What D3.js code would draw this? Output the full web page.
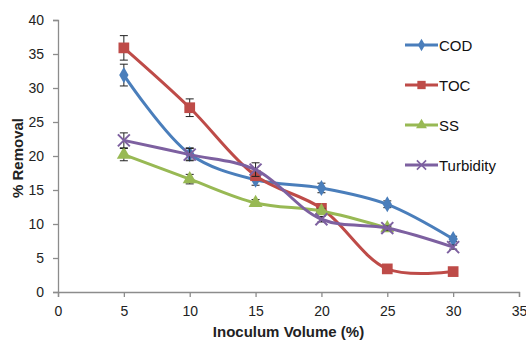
<!DOCTYPE html>
<html>
<head>
<meta charset="utf-8">
<script src="https://cdn.jsdelivr.net/npm/d3@7"></script>
<style>
  body { margin: 0; background: #fff; }
  svg { display: block; font-family: "Liberation Sans", Arial, sans-serif; }
</style>
</head>
<body>
<div id="chart"></div>
<script>
// Data
const volumes = [5, 10, 15, 20, 25, 30];
const codValues = [31.9, 20.3, 16.5, 15.3, 12.9, 7.8];
const codErrors = [1.6, 0.9, 0.8, 0.7, 0.5, 0.4];
const tocValues = [35.9, 27.1, 17.1, 12.3, 3.4, 3.0];
const tocErrors = [1.8, 1.3, 0.6, 0.4, 0.3, 0.3];
const ssValues = [20.2, 16.6, 13.1, 11.9, 9.4];
const ssErrors = [0.9, 0.7, 0.5, 0.4, 0.3];
const turbValues = [22.3, 20.2, 18.0, 10.7, 9.4, 6.6];
const turbErrors = [1.1, 0.9, 1.0, 0.4, 0.3, 0.3];
const xTicks = [0, 5, 10, 15, 20, 25, 30, 35];
const yTicks = [0, 5, 10, 15, 20, 25, 30, 35, 40];

const series = [
  { name: 'COD', color: '#4a7ebb', symbol: 'diamond', values: codValues, errors: codErrors },
  { name: 'TOC', color: '#be4b48', symbol: 'square', values: tocValues, errors: tocErrors },
  { name: 'SS', color: '#98b954', symbol: 'triangle', values: ssValues, errors: ssErrors },
  { name: 'Turbidity', color: '#7d60a0', symbol: 'cross', values: turbValues, errors: turbErrors }
];

const width = 526, height = 340;
const margin = { top: 20, right: 7, bottom: 48, left: 58 };
const plotW = width - margin.left - margin.right;
const plotH = height - margin.top - margin.bottom;

const svg = d3.select('#chart').append('svg')
  .attr('width', width)
  .attr('height', height);

const g = svg.append('g')
  .attr('transform', `translate(${margin.left},${margin.top})`);

const x = d3.scaleLinear().domain([0, 35]).range([0, plotW]);
const y = d3.scaleLinear().domain([0, 40]).range([plotH, 0]);

// Axes
const xAxis = g.append('g')
  .attr('transform', `translate(0,${plotH})`)
  .call(d3.axisBottom(x).tickValues(xTicks).tickSize(5).tickPadding(9));
const yAxis = g.append('g')
  .call(d3.axisLeft(y).tickValues(yTicks).tickSize(5).tickPadding(9));

[xAxis, yAxis].forEach(a => {
  a.selectAll('path, line').attr('stroke', '#8c8c8c').attr('stroke-width', 1.3);
  a.selectAll('text').attr('font-size', 14).attr('fill', '#222')
    .attr('font-family', '"Liberation Sans", Arial, sans-serif');
});

// Axis titles
svg.append('text')
  .attr('x', margin.left + x(17.5))
  .attr('y', 337)
  .attr('text-anchor', 'middle')
  .attr('font-size', 15)
  .attr('font-weight', 'bold')
  .attr('fill', '#222')
  .text('Inoculum Volume (%)');

svg.append('text')
  .attr('transform', `translate(23,${margin.top + y(20) + 2}) rotate(-90)`)
  .attr('text-anchor', 'middle')
  .attr('font-size', 15)
  .attr('font-weight', 'bold')
  .attr('fill', '#222')
  .text('% Removal');

const line = d3.line()
  .x(d => x(d.v))
  .y(d => y(d.p))
  .curve(d3.curveCatmullRom.alpha(0.5));

const symbolType = {
  diamond: d3.symbolDiamond,
  square: d3.symbolSquare,
  triangle: d3.symbolTriangle,
  cross: d3.symbolTimes
};
const symbolSize = { diamond: 75, square: 115, triangle: 85, cross: 95 };

function drawMarker(sel, s, scale) {
  const path = d3.symbol().type(symbolType[s.symbol]).size(symbolSize[s.symbol] * scale);
  sel.append('path')
    .attr('d', path)
    .attr('fill', s.symbol === 'cross' ? 'none' : s.color)
    .attr('stroke', s.color)
    .attr('stroke-width', s.symbol === 'cross' ? 2 * Math.sqrt(scale) : 0);
}

series.forEach(s => {
  const pts = s.values.map((p, i) => ({ v: volumes[i], p, e: s.errors[i] }));

  // error bars
  const eb = g.append('g').attr('stroke', '#222').attr('stroke-width', 1);
  pts.forEach(d => {
    eb.append('line')
      .attr('x1', x(d.v)).attr('x2', x(d.v))
      .attr('y1', y(d.p - d.e)).attr('y2', y(d.p + d.e));
    [d.p - d.e, d.p + d.e].forEach(val => {
      eb.append('line')
        .attr('x1', x(d.v) - 4).attr('x2', x(d.v) + 4)
        .attr('y1', y(val)).attr('y2', y(val));
    });
  });

  g.append('path')
    .datum(pts)
    .attr('fill', 'none')
    .attr('stroke', s.color)
    .attr('stroke-width', 3)
    .attr('d', line);

  pts.forEach(d => {
    const m = g.append('g').attr('transform', `translate(${x(d.v)},${y(d.p)})`);
    drawMarker(m, s, 1);
  });
});

// Legend
const legend = svg.append('g').attr('transform', 'translate(405,45)');
series.forEach((s, i) => {
  const item = legend.append('g').attr('transform', `translate(0,${i * 40})`);
  item.append('line')
    .attr('x1', 0).attr('x2', 33)
    .attr('stroke', s.color).attr('stroke-width', 3);
  const m = item.append('g').attr('transform', 'translate(16.5,0)');
  drawMarker(m, s, 0.6);
  item.append('text')
    .attr('x', 34)
    .attr('y', 5.5)
    .attr('font-size', 15)
    .attr('fill', '#111')
    .text(s.name);
});
</script>
</body>
</html>
